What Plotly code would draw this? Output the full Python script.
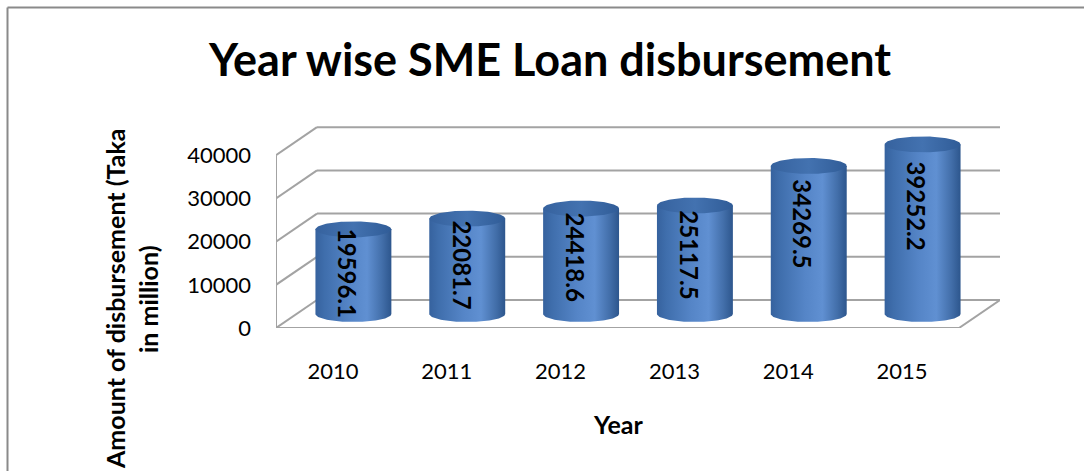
import numpy as np
import plotly.graph_objects as go

# ---- data -------------------------------------------------------------
years = ["2010", "2011", "2012", "2013", "2014", "2015"]
disbursement = [19596.1, 22081.7, 24418.6, 25117.5, 34269.5, 39252.2]
y_ticks = [0, 10000, 20000, 30000, 40000]

# ---- pseudo-3D geometry (in axis units) --------------------------------
DEPTH_X = 0.36          # horizontal shift from front to back wall
DEPTH_Y = 6481          # vertical shift from front to back wall
HALF_X, HALF_Y = DEPTH_X / 2, DEPTH_Y / 2
BAR_W = 0.667           # cylinder diameter in category units
ELL_H = 1850            # vertical semi-axis of the cylinder caps
GRID = "#a3a3a3"

X_LO, X_HI = -0.5, len(years) - 0.5
Y_TOP = max(y_ticks)

fig = go.Figure()


def line(xs, ys, color=GRID, width=2):
    fig.add_trace(go.Scatter(x=xs, y=ys, mode="lines", hoverinfo="skip",
                             line=dict(color=color, width=width),
                             showlegend=False))


# left wall: front edge, slanted gridlines
line([X_LO, X_LO], [0, Y_TOP])
for t in y_ticks:
    line([X_LO, X_LO + DEPTH_X], [t, t + DEPTH_Y])
# back wall gridlines
for t in y_ticks:
    line([X_LO + DEPTH_X, X_HI + DEPTH_X], [t + DEPTH_Y, t + DEPTH_Y])
# floor: front edge and right edge
line([X_LO, X_HI], [0, 0])
line([X_HI, X_HI + DEPTH_X], [0, DEPTH_Y])

# cylinders
theta = np.linspace(0, np.pi, 60)
body_scale = [[0.0, "#36629e"], [0.12, "#3f6eac"], [0.45, "#5585c7"],
              [0.68, "#6090d2"], [0.88, "#426ea9"], [1.0, "#2d568d"]]
cap_scale = [[0.0, "#36629e"], [0.5, "#4372b0"], [1.0, "#305c97"]]

for i, v in enumerate(disbursement):
    cx = i + HALF_X
    base = HALF_Y
    top = v + HALF_Y
    a = BAR_W / 2
    # front half of the bottom cap, from right to left
    arc_x = cx + a * np.cos(theta)
    arc_y = base - ELL_H * np.sin(theta)
    bx = np.concatenate([[cx - a, cx + a], arc_x, [cx - a]])
    by = np.concatenate([[top, top], arc_y, [top]])
    fig.add_trace(go.Scatter(
        x=bx, y=by, mode="lines", fill="toself", hoverinfo="skip",
        line=dict(width=0), showlegend=False,
        fillgradient=dict(type="horizontal", colorscale=body_scale)))
    # top cap
    t2 = np.linspace(0, 2 * np.pi, 120)
    fig.add_trace(go.Scatter(
        x=cx + a * np.cos(t2), y=top + ELL_H * np.sin(t2),
        mode="lines", fill="toself", hoverinfo="skip",
        line=dict(width=0), showlegend=False,
        fillgradient=dict(type="horizontal", colorscale=cap_scale)))
    # value label, written down the cylinder
    fig.add_annotation(x=cx - 0.05, y=0.79 * v - 2850,
                       text=f"{v:.1f}", textangle=90, showarrow=False,
                       xanchor="center", yanchor="middle",
                       font=dict(family="Lato", size=24, color="black",
                                 weight="bold"))

# axis titles
title_font = dict(family="Lato", size=25, color="black", weight="bold")
fig.add_annotation(x=(len(years) - 1) / 2, y=-96 / 208, yref="paper",
                   text="Year", showarrow=False,
                   xanchor="center", yanchor="middle", font=title_font)
fig.add_annotation(x=(115 - 276) / 724, xref="paper", y=29 / 208,
                   yref="paper", text="Amount of disbursement (Taka",
                   textangle=-90, showarrow=False,
                   xanchor="center", yanchor="middle", font=title_font)
fig.add_annotation(x=(148 - 276) / 724, xref="paper", y=29 / 208,
                   yref="paper", text="in million)", textangle=-90,
                   showarrow=False, xanchor="center", yanchor="middle",
                   font=title_font)

# chart frame
L, R, T, B = 276, 84, 120, 143
PW, PH = 1084 - L - R, 471 - T - B
fx = (7.5 - L) / PW
fy = 1 + (T - 7.5) / PH
frame = dict(color="#8a8a8a", width=2)
fig.add_shape(type="line", xref="paper", yref="paper",
              x0=fx, y0=fy, x1=(1084 - L) / PW, y1=fy, line=frame)
fig.add_shape(type="line", xref="paper", yref="paper",
              x0=fx, y0=fy, x1=fx, y1=-(B + 5) / PH, line=frame)

fig.update_layout(
    width=1084, height=471,
    margin=dict(l=L, r=R, t=T, b=B),
    paper_bgcolor="white", plot_bgcolor="white",
    title=dict(text="Year wise SME Loan disbursement", x=550 / 1084,
               xanchor="center", xref="container", y=1 - 60 / 471,
               yanchor="middle",
               font=dict(family="Lato", size=45, color="black",
                         weight="bold")),
    xaxis=dict(range=[X_LO, X_HI + DEPTH_X], tickmode="array",
               tickvals=list(range(len(years))), ticktext=years,
               showgrid=False, zeroline=False, showline=False,
               ticks="", ticklabelstandoff=28,
               tickfont=dict(family="Lato", size=22, color="black")),
    yaxis=dict(range=[0, PH / 0.00432], tickmode="array",
               tickvals=y_ticks, ticktext=[str(t) for t in y_ticks],
               showgrid=False, zeroline=False, showline=False,
               ticks="", ticklabelstandoff=24,
               tickfont=dict(family="Lato", size=22, color="black")),
)

fig.write_html("out.html")
